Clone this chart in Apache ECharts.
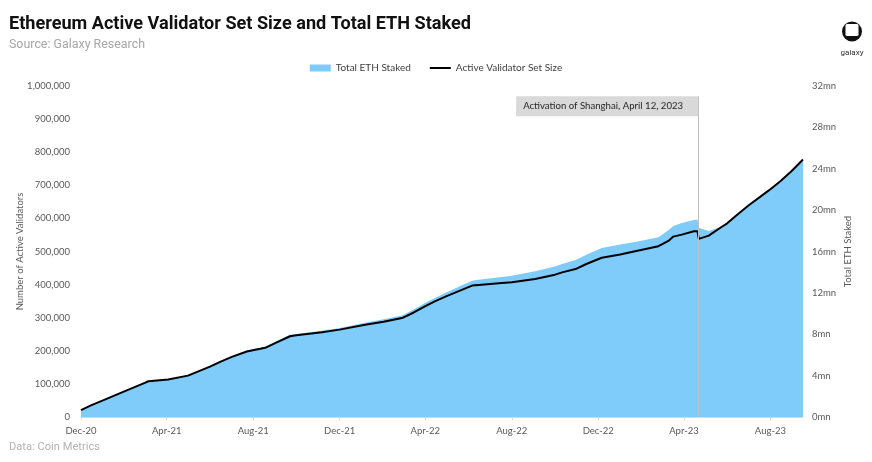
<!DOCTYPE html>
<html>
<head>
<meta charset="utf-8">
<script src="https://cdn.jsdelivr.net/npm/echarts@6/dist/echarts.min.js"></script>
<style>
html,body{margin:0;padding:0;background:#fff;}
#chart{width:872px;height:462px;}
</style>
</head>
<body>
<div id="chart"></div>
<script>
// ---- Data ----
const dates = [
  '2020-12-01','2020-12-15','2021-01-01','2021-02-01','2021-03-01','2021-03-06','2021-04-03','2021-05-01',
  '2021-06-01','2021-06-17','2021-07-01','2021-07-23','2021-08-11','2021-08-18','2021-09-01','2021-09-22',
  '2021-10-01','2021-11-06','2021-12-01','2022-01-06','2022-02-01','2022-02-27','2022-03-15','2022-04-01',
  '2022-04-15','2022-05-01','2022-06-06','2022-06-15','2022-07-18','2022-08-01','2022-09-03','2022-10-01',
  '2022-10-11','2022-10-30','2022-11-15','2022-12-06','2023-01-01','2023-01-22','2023-02-24','2023-03-10',
  '2023-03-17','2023-03-29','2023-04-15','2023-04-20','2023-04-22','2023-05-06','2023-05-24','2023-06-01',
  '2023-06-13','2023-07-01','2023-07-25','2023-08-01','2023-08-15','2023-08-31','2023-09-16'
];
// Active validator set size (validators)
const validators = [
  21000, 35000, 50000, 78000, 103000, 108000, 113000, 125000,
  152000, 168000, 181000, 198000, 206000, 209000, 223000, 244000,
  247000, 256000, 264000, 279000, 288000, 299000, 315000, 335000,
  350000, 365000, 397000, 399000, 405000, 407000, 417000, 430000,
  437000, 447000, 463000, 481000, 491000, 501000, 516000, 532000,
  545000, 551000, 561000, 561000, 538000, 548000, 574000, 585000,
  607000, 639000, 677000, 688000, 712000, 743000, 778000
];
// Total ETH staked (millions of ETH)
const ethStaked = [
  0.67, 1.12, 1.60, 2.53, 3.33, 3.49, 3.65, 4.03,
  4.93, 5.44, 5.86, 6.43, 6.69, 6.78, 7.26, 7.94,
  8.03, 8.35, 8.61, 9.12, 9.44, 9.82, 10.37, 11.04,
  11.52, 12.06, 13.18, 13.28, 13.54, 13.66, 14.08, 14.56,
  14.78, 15.17, 15.71, 16.35, 16.67, 16.93, 17.38, 18.05,
  18.46, 18.75, 19.04, 19.10, 18.30, 17.98, 18.40, 18.72,
  19.42, 20.45, 21.66, 22.02, 22.78, 23.78, 24.90
];
const xTickDates = ['2020-12-01','2021-04-01','2021-08-01','2021-12-01','2022-04-01','2022-08-01','2022-12-01','2023-04-01','2023-08-01'];
const xTickLabels = ['Dec-20','Apr-21','Aug-21','Dec-21','Apr-22','Aug-22','Dec-22','Apr-23','Aug-23'];
const shanghaiDate = '2023-04-21';
const shanghaiText = 'Activation of Shanghai, April 12, 2023';
const titleText = 'Ethereum Active Validator Set Size and Total ETH Staked';
const subtitleText = 'Source: Galaxy Research';
const footerText = 'Data: Coin Metrics';

const HEAD = 'Roboto,"Noto Sans",sans-serif';
const LABEL = 'Lato,"Open Sans",sans-serif';
const labelColor = '#595959';

const tsOf = d => +new Date(d + 'T00:00:00Z');
const xTickTs = xTickDates.map(tsOf);

// horizontal squeeze so that text matches the reference's condensed typeface widths
const mctx = document.createElement('canvas').getContext('2d');
function fitScale(text, font, width) { mctx.font = font; return width / mctx.measureText(text).width; }

const chart = echarts.init(document.getElementById('chart'), null, {renderer: 'canvas'});

const option = {
  backgroundColor: '#ffffff',
  animation: false,
  legend: {
    left: 'center', top: 58,
    itemGap: 18, itemWidth: 21, itemHeight: 7,
    textStyle: {fontFamily: LABEL, fontSize: 10, color: '#404040'},
    data: [
      {name: 'Total ETH Staked', icon: 'rect'},
      {name: 'Active Validator Set Size', itemStyle: {opacity: 0}}
    ]
  },
  grid: {left: 81, right: 69, top: 86, bottom: 45, containLabel: false},
  xAxis: {
    type: 'value',
    min: tsOf(dates[0]), max: tsOf(dates[dates.length - 1]),
    axisLine: {show: true, lineStyle: {color: '#d9d9d9'}},
    axisTick: {show: true, length: 3, lineStyle: {color: '#d9d9d9'}, customValues: xTickTs},
    splitLine: {show: false},
    axisLabel: {
      customValues: xTickTs, margin: 9,
      fontFamily: LABEL, fontSize: 9.5, color: labelColor,
      formatter: v => { const i = xTickTs.indexOf(v); return i >= 0 ? xTickLabels[i] : ''; }
    }
  },
  yAxis: [
    {
      type: 'value', min: 0, max: 1000000, interval: 100000,
      name: 'Number of Active Validators', nameLocation: 'middle', nameGap: 56, nameMoveOverlap: false,
      nameTextStyle: {fontFamily: LABEL, fontSize: 9.5, color: labelColor},
      axisLine: {show: false}, axisTick: {show: false}, splitLine: {show: false},
      axisLabel: {margin: 11, fontFamily: LABEL, fontSize: 9.5, color: labelColor,
        formatter: v => v.toLocaleString('en-US')}
    },
    {
      type: 'value', min: 0, max: 32, interval: 4, position: 'right',
      name: 'Total ETH Staked', nameLocation: 'middle', nameGap: 40, nameMoveOverlap: false,
      nameTextStyle: {fontFamily: LABEL, fontSize: 9.5, color: labelColor},
      axisLine: {show: false}, axisTick: {show: false}, splitLine: {show: false},
      axisLabel: {margin: 9, fontFamily: LABEL, fontSize: 9.5, color: labelColor,
        formatter: v => v + 'mn'}
    }
  ],
  series: [
    {
      name: 'Total ETH Staked', type: 'line', yAxisIndex: 1,
      data: dates.map((d, i) => [tsOf(d), ethStaked[i]]),
      symbol: 'none', showSymbol: false,
      lineStyle: {width: 0, color: '#7fcbfa'},
      itemStyle: {color: '#7fcbfa'},
      areaStyle: {color: '#7fcbfa', opacity: 1},
      z: 1
    },
    {
      name: 'Active Validator Set Size', type: 'line', yAxisIndex: 0,
      data: dates.map((d, i) => [tsOf(d), validators[i]]),
      symbol: 'none', showSymbol: false,
      lineStyle: {width: 2, color: '#000000'},
      itemStyle: {color: '#000000'},
      z: 3,
      markLine: {
        silent: true, symbol: 'none',
        lineStyle: {color: '#bfbfbf', width: 1, type: 'solid'},
        label: {show: false},
        data: [[{coord: [tsOf(shanghaiDate), 0]}, {coord: [tsOf(shanghaiDate), 969000]}]]
      }
    }
  ]
};
chart.setOption(option);

const titleFont = 'bold 19px ' + HEAD;
const subFont = '12.5px ' + HEAD;
const footFont = '11px ' + HEAD;
const annFont = '10px ' + LABEL;

// Annotation box placed using the library's coordinate conversion
const lx = chart.convertToPixel({xAxisIndex: 0}, tsOf(shanghaiDate));
const ly = chart.convertToPixel({yAxisIndex: 0}, 969000);
chart.setOption({
  graphic: [
    {type: 'text', x: 9, y: 24.5, scaleX: fitScale(titleText, titleFont, 462),
      style: {text: titleText, fill: '#111111', font: titleFont, verticalAlign: 'middle'}},
    {type: 'text', x: 9, y: 44.5, scaleX: fitScale(subtitleText, subFont, 136),
      style: {text: subtitleText, fill: '#a6a6a6', font: subFont, verticalAlign: 'middle'}},
    {type: 'text', x: 9, y: 447.5, scaleX: fitScale(footerText, footFont, 91),
      style: {text: footerText, fill: '#b3b3b3', font: footFont, verticalAlign: 'middle'}},
    {type: 'rect', shape: {x: lx - 182, y: ly, width: 182, height: 20}, style: {fill: '#d9d9d9'}, z: 10},
    {type: 'text', x: lx - 175, y: ly + 10, scaleX: fitScale(shanghaiText, annFont, 160), z: 11,
      style: {text: shanghaiText, fill: '#262626', font: annFont, verticalAlign: 'middle'}},
    {type: 'circle', shape: {cx: 852, cy: 31.5, r: 10}, style: {fill: '#111111'}},
    {type: 'rect', shape: {x: 845.5, y: 24, width: 13, height: 12, r: 1.5}, style: {fill: '#ffffff'}},
    {type: 'text', x: 852, y: 53, style: {text: 'galaxy', fill: '#333333', font: '8px ' + HEAD,
      align: 'center', verticalAlign: 'middle'}}
  ]
});
</script>
</body>
</html>
